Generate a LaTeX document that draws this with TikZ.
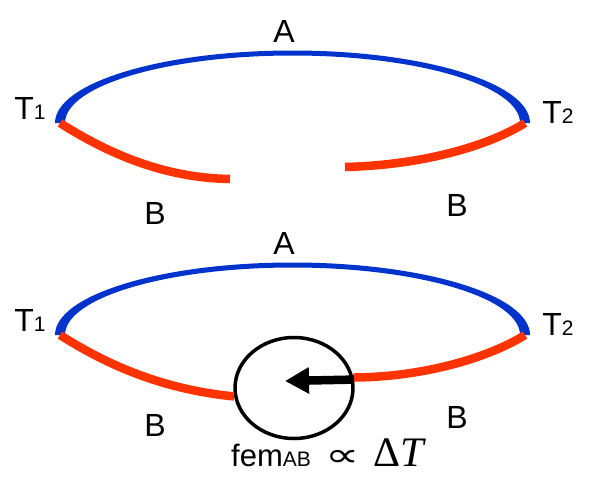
\documentclass[tikz,border=0pt]{standalone}
\usepackage{fontspec}
\setmainfont{Liberation Sans}
\newfontfamily\symbfont{DejaVu Sans}
\newfontfamily\deltafont{Liberation Serif}
\usepackage{graphicx}
\usepackage{xcolor}
\definecolor{wireblue}{RGB}{0, 51, 204}
\definecolor{wirered}{RGB}{255, 51, 0}
\usetikzlibrary{arrows.meta, calc, shapes.geometric}

\newcommand{\subtxt}[1]{{\fontsize{21}{21}\selectfont #1}}

\begin{document}
\begin{tikzpicture}[x=1pt, y=-1pt, >=Stealth,
    font=\fontsize{32}{32}\selectfont,
    wireA/.style={fill=wireblue},
    wireB/.style={draw=wirered, line width=8.5pt},
    label/.style={inner sep=0pt, anchor=center},
    meter/.style={ellipse, draw=black, line width=3.5pt, minimum width=118pt, minimum height=101pt, inner sep=0pt}
]
\useasboundingbox (0,0) rectangle (589,477);

% === Circuito abierto ===
\begin{scope}
    \coordinate (t1) at (60,123);
    \coordinate (t2) at (525,123);
    \coordinate (b1) at (230,179);
    \coordinate (b2) at (345,167);

    % Alambre A (más grueso en los extremos)
    \fill[wireA] ($(t1)+(-5,0)$) arc[start angle=180, end angle=360, x radius=237.5, y radius=72.5]
        -- ($(t2)+(-5,0)$) arc[start angle=360, end angle=180, x radius=227.5, y radius=67.5] -- cycle;
    % Alambre B, abierto en el medio
    \draw[wireB] (t1) .. controls (115,158) and (170,178) .. (b1);
    \draw[wireB] (t2) .. controls (490,145) and (425,165) .. (b2);

    \node[label] (la) at (284,31) {A};
    \node[label] (lt1) at (30,108) {T\subtxt{1}};
    \node[label] (lt2) at (558,112) {T\subtxt{2}};
    \node[label] (lb1) at (155,213) {B};
    \node[label] (lb2) at (457,205) {B};
\end{scope}

% === Circuito con voltímetro ===
\begin{scope}[shift={(0,212)}]
    \coordinate (s1) at (60,123);
    \coordinate (s2) at (525,123);
    \node[meter] (fem) at (294,176) {};
    \coordinate (tip) at (285,169);

    \fill[wireA] ($(s1)+(-5,0)$) arc[start angle=180, end angle=360, x radius=237.5, y radius=72.5]
        -- ($(s2)+(-5,0)$) arc[start angle=360, end angle=180, x radius=227.5, y radius=67.5] -- cycle;
    \draw[wireB] (s1) .. controls (115,158) and (170,178) .. (fem.188);
    \draw[wireB] (s2) .. controls (490,145) and (425,165) .. (fem.10);

    % Flecha de la fem
    \draw[-{Triangle[length=24pt, width=25pt]}, line width=8.5pt] (fem.8) -- (tip);

    \node[label, anchor=base west] (eq) at (231,254) {{\fontsize{31}{31}\selectfont fem}\subtxt{AB}\,
        \scalebox{1.6}[1.1]{\symbfont\fontsize{30}{30}\selectfont ∝}\,
        {\deltafont\fontsize{42}{42}\selectfont Δ\textit{T}}};

    \node[label] (ma) at (284,31) {A};
    \node[label] (mt1) at (30,108) {T\subtxt{1}};
    \node[label] (mt2) at (558,112) {T\subtxt{2}};
    \node[label] (mb1) at (155,213) {B};
    \node[label] (mb2) at (457,205) {B};
\end{scope}

\end{tikzpicture}
\end{document}
